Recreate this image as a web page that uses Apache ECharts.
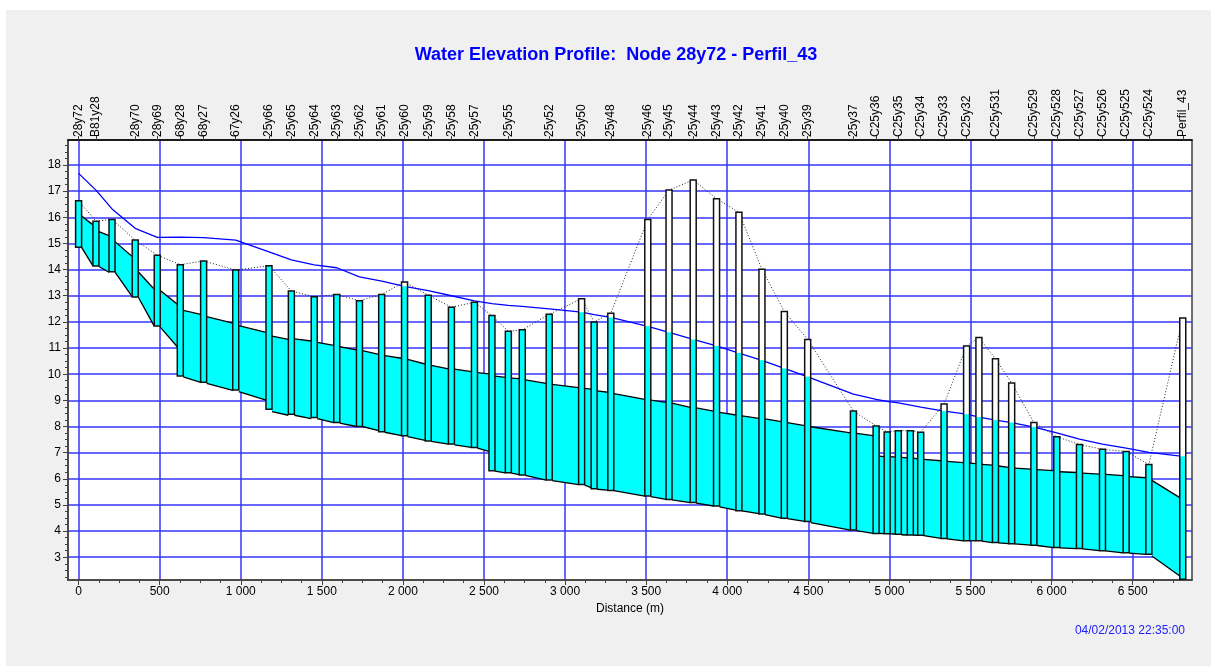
<!DOCTYPE html>
<html>
<head>
<meta charset="utf-8">
<script src="https://cdn.jsdelivr.net/npm/echarts@6/dist/echarts.min.js"></script>
<style>
html,body{margin:0;padding:0;background:#ffffff;}
#bg{position:absolute;left:6px;top:10px;width:1205px;height:656px;background:#f0f0f0;}
#c{position:absolute;left:0;top:0;width:1211px;height:666px;}
</style>
</head>
<body>
<div id="bg"></div>
<div id="c"></div>
<script>
// ---------------- DATA ----------------
const nodeNames = ['28y72','B81y28','','28y70','28y69','68y28','68y27','67y26','25y66','25y65',
  '25y64','25y63','25y62','25y61','25y60','25y59','25y58','25y57','','25y55',
  '','25y52','25y50','','25y48','25y46','25y45','25y44','25y43','25y42',
  '25y41','25y40','25y39','25y37','C25y36','','C25y35','','C25y34','C25y33',
  'C25y32','','C25y531','','C25y529','C25y528','C25y527','C25y526','C25y525','C25y524',
  'Perfil_43'];
const nodeDist = [0,107,206,349,485,627,771,969,1174,1312,
  1453,1592,1732,1869,2010,2156,2299,2441,2549,2650,
  2736,2902,3102,3179,3282,3510,3641,3790,3934,4072,
  4214,4352,4496,4778,4918,4986,5055,5129,5193,5337,
  5476,5552,5654,5754,5891,6032,6172,6314,6460,6600,
  6809];
const nodeInvert = [14.85,14.14,13.92,12.95,11.84,9.93,9.69,9.4,8.66,8.47,
  8.34,8.15,8.0,7.8,7.65,7.45,7.33,7.2,6.31,6.23,
  6.15,5.95,5.78,5.62,5.55,5.34,5.21,5.09,4.96,4.78,
  4.65,4.49,4.37,4.04,3.91,3.9,3.88,3.85,3.84,3.72,
  3.63,3.63,3.56,3.52,3.46,3.37,3.33,3.25,3.17,3.11,
  2.16];
const nodeRim = [16.63,15.85,15.92,15.13,14.55,14.19,14.33,13.98,14.15,13.18,
  12.96,13.05,12.81,13.05,13.53,13.02,12.56,12.75,12.24,11.64,
  11.7,12.29,12.89,12.0,12.33,15.92,17.04,17.43,16.71,16.19,
  14.01,12.4,11.33,8.59,8.02,7.79,7.84,7.84,7.78,8.86,
  11.08,11.4,10.59,9.66,8.15,7.61,7.31,7.13,7.04,6.55,
  12.15];
const nodeWater = [17.68,17.04,16.32,15.58,15.23,15.24,15.22,15.13,14.68,14.37,
  14.18,14.07,13.72,13.56,13.36,13.2,13.0,12.8,12.7,12.63,
  12.59,12.5,12.37,12.28,12.17,11.83,11.6,11.33,11.08,10.81,
  10.53,10.22,9.9,9.24,9.04,8.96,8.9,8.82,8.74,8.59,
  8.47,8.36,8.24,8.15,7.98,7.76,7.52,7.33,7.17,7.01,
  6.86];
// conduit i joins node i and node i+1 (values at the box edges)
const condInvUp = [14.85,14.12,13.9,12.95,11.8,9.9,9.65,9.33,8.57,8.43,
  8.3,8.13,8.0,7.78,7.61,7.43,7.3,7.17,6.29,6.22,
  6.13,5.93,5.76,5.6,5.55,5.32,5.19,5.07,4.93,4.77,
  4.63,4.48,4.32,4.02,3.91,3.9,3.86,3.85,3.83,3.7,
  3.63,3.62,3.55,3.51,3.45,3.36,3.32,3.24,3.16,3.05];
const condInvDn = [14.14,13.9,12.97,11.84,11.05,9.69,9.38,9.01,8.43,8.3,
  8.15,8.0,7.84,7.65,7.47,7.33,7.2,7.05,6.23,6.16,
  5.95,5.78,5.66,5.57,5.34,5.21,5.09,4.96,4.8,4.67,
  4.5,4.37,4.04,3.91,3.9,3.88,3.85,3.84,3.72,3.63,
  3.63,3.56,3.52,3.46,3.37,3.33,3.25,3.17,3.11,2.28];
const condCrownUp = [16.05,15.45,15.07,13.92,13.2,12.44,12.2,11.86,11.46,11.35,
  11.22,11.05,10.9,10.71,10.57,10.34,10.19,10.06,9.93,9.85,
  9.78,9.61,9.46,9.36,9.26,9.01,8.89,8.71,8.54,8.41,
  8.29,8.15,7.99,7.74,6.87,6.85,6.82,6.79,6.74,6.67,
  6.6,6.55,6.49,6.41,6.35,6.27,6.22,6.17,6.08,5.94];
const condCrownDn = [15.71,15.3,14.5,13.25,12.68,12.29,11.95,11.6,11.33,11.27,
  11.1,10.93,10.76,10.61,10.39,10.2,10.1,10.01,9.88,9.83,
  9.65,9.49,9.43,9.31,9.04,8.92,8.73,8.59,8.44,8.31,
  8.19,8.03,7.76,7.65,6.85,6.83,6.8,6.76,6.69,6.62,
  6.58,6.52,6.44,6.37,6.31,6.24,6.18,6.12,6.04,5.28];
const xTickLabels = [0,500,1000,1500,2000,2500,3000,3500,4000,4500,5000,5500,6000,6500];
const yTickLabels = [3,4,5,6,7,8,9,10,11,12,13,14,15,16,17,18];
const titleText = 'Water Elevation Profile:  Node 28y72 - Perfil_43';
const xAxisName = 'Distance (m)';
const stampText = '04/02/2013 22:35:00';

// ---------------- LAYOUT / STYLE ----------------
const X_MIN = -65.4, X_MAX = 6866;
const Y_MIN = 2.13, Y_MAX = 18.956;
const FONT = '"Liberation Sans", Arial, sans-serif';
const GRID_BLUE = '#3636ff';
const AXIS_C = '#404040';
const CYAN = '#00ffff';
const BOX_W = 6;

function minorValues(major, lo, hi, parts) {
  const step = (major[1] - major[0]) / parts;
  const out = [];
  const start = Math.ceil((lo - major[0]) / step);
  for (let k = start; major[0] + k * step <= hi; k++) {
    if (k % parts !== 0) out.push(+(major[0] + k * step).toFixed(6));
  }
  return out;
}
const xMinor = minorValues(xTickLabels, X_MIN, X_MAX, 4);
const yMinor = minorValues(yTickLabels, Y_MIN, Y_MAX, 4);
const topTicks = nodeDist.filter((d, i) => nodeNames[i] !== '');

function fmtThousands(v) {
  return String(v).replace(/\B(?=(\d{3})+(?!\d))/g, ' ');
}

const conduitData = condInvUp.map((v, i) => [nodeDist[i], nodeDist[i + 1], condInvUp[i], condInvDn[i], condCrownUp[i], condCrownDn[i]]);
const boxData = nodeDist.map((d, i) => [d, nodeInvert[i], nodeRim[i], Math.min(nodeWater[i], nodeRim[i])]);
const waterData = nodeDist.map((d, i) => [d, nodeWater[i]]);
const rimData = nodeDist.map((d, i) => [d, nodeRim[i]]);

function renderConduit(params, api) {
  const a = api.coord([api.value(0), api.value(2)]);
  const b = api.coord([api.value(1), api.value(3)]);
  const c = api.coord([api.value(1), api.value(5)]);
  const e = api.coord([api.value(0), api.value(4)]);
  const h = BOX_W / 2;
  a[0] += h; e[0] += h; b[0] -= h; c[0] -= h;
  return {
    type: 'group',
    children: [
      { type: 'polygon', shape: { points: [a, b, c, e] }, style: { fill: CYAN, stroke: null } },
      { type: 'line', shape: { x1: a[0], y1: a[1], x2: b[0], y2: b[1] }, style: { stroke: '#000', lineWidth: 1.3 } },
      { type: 'line', shape: { x1: e[0], y1: e[1], x2: c[0], y2: c[1] }, style: { stroke: '#000', lineWidth: 1.3 } }
    ]
  };
}

function renderBox(params, api) {
  const d = api.value(0);
  const pB = api.coord([d, api.value(1)]);
  const pT = api.coord([d, api.value(2)]);
  const pF = api.coord([d, api.value(3)]);
  const x = pB[0] - BOX_W / 2;
  return {
    type: 'group',
    children: [
      { type: 'rect', shape: { x: x, y: pT[1], width: BOX_W, height: pB[1] - pT[1] }, style: { fill: '#ffffff' } },
      { type: 'rect', shape: { x: x, y: pF[1], width: BOX_W, height: pB[1] - pF[1] }, style: { fill: CYAN } },
      { type: 'rect', shape: { x: x, y: pT[1], width: BOX_W, height: pB[1] - pT[1] }, style: { fill: 'none', stroke: '#111', lineWidth: 1.5 } }
    ]
  };
}

const chart = echarts.init(document.getElementById('c'), null, { renderer: 'canvas', width: 1211, height: 666 });
const labelStyle = { color: '#000', fontSize: 12, fontFamily: FONT };

chart.setOption({
  animation: false,
  backgroundColor: 'transparent',
  title: {
    text: titleText, left: 611, top: 41, textAlign: 'center',
    textStyle: { color: '#0000ff', fontSize: 18, fontWeight: 'bold', fontFamily: FONT }
  },
  graphic: [
    { type: 'text', right: 26, top: 625, style: { text: stampText, fill: '#2020ff', font: '12px ' + FONT } }
  ],
  grid: { left: 68, right: 19, top: 140, bottom: 86, show: true, backgroundColor: '#ffffff', borderColor: AXIS_C, borderWidth: 1.5 },
  xAxis: [
    {
      type: 'value', min: X_MIN, max: X_MAX, position: 'bottom', splitNumber: 14,
      axisLine: { show: true, onZero: false, lineStyle: { color: AXIS_C, width: 1.5 } },
      axisTick: { show: true, customValues: xTickLabels, length: 5, lineStyle: { color: AXIS_C } },
      axisLabel: Object.assign({ customValues: xTickLabels, formatter: fmtThousands, margin: 6 }, labelStyle),
      splitLine: { show: true, lineStyle: { color: GRID_BLUE, width: 1.5 } },
      name: xAxisName, nameLocation: 'middle', nameGap: 23,
      nameTextStyle: labelStyle
    },
    {
      type: 'value', min: X_MIN, max: X_MAX, position: 'bottom',
      axisLine: { show: false, onZero: false },
      axisTick: { show: true, customValues: xMinor, length: 3, lineStyle: { color: AXIS_C } },
      axisLabel: { show: false },
      splitLine: { show: false }
    },
    {
      type: 'value', min: X_MIN, max: X_MAX, position: 'top',
      axisLine: { show: true, onZero: false, lineStyle: { color: '#000', width: 1.5 } },
      axisTick: { show: true, customValues: topTicks, length: 4, lineStyle: { color: AXIS_C } },
      axisLabel: Object.assign({
        customValues: topTicks, rotate: -90, margin: 3,
        formatter: function (v) { const i = nodeDist.indexOf(v); return i >= 0 ? nodeNames[i] : ''; }
      }, labelStyle),
      splitLine: { show: false }
    }
  ],
  yAxis: [
    {
      type: 'value', min: Y_MIN, max: Y_MAX, position: 'left', splitNumber: 16,
      axisLine: { show: true, onZero: false, lineStyle: { color: AXIS_C, width: 1.5 } },
      axisTick: { show: true, customValues: yTickLabels, length: 5, lineStyle: { color: AXIS_C } },
      axisLabel: Object.assign({ customValues: yTickLabels, margin: 7 }, labelStyle),
      splitLine: { show: true, lineStyle: { color: GRID_BLUE, width: 1.5 } }
    },
    {
      type: 'value', min: Y_MIN, max: Y_MAX, position: 'left',
      axisLine: { show: false, onZero: false },
      axisTick: { show: true, customValues: yMinor, length: 3, lineStyle: { color: AXIS_C } },
      axisLabel: { show: false },
      splitLine: { show: false }
    }
  ],
  series: [
    {
      type: 'custom', name: 'conduits', coordinateSystem: 'cartesian2d', xAxisIndex: 0, yAxisIndex: 0,
      renderItem: renderConduit, data: conduitData, encode: { x: [0, 1], y: [2, 3, 4, 5] }, z: 1, silent: true
    },
    {
      type: 'line', name: 'ground', xAxisIndex: 0, yAxisIndex: 0, data: rimData, symbol: 'none',
      lineStyle: { color: '#222', width: 1, type: [1, 2] }, z: 3, silent: true
    },
    {
      type: 'line', name: 'water', xAxisIndex: 0, yAxisIndex: 0, data: waterData, symbol: 'none',
      lineStyle: { color: '#0000ff', width: 1.3 }, z: 3, silent: true
    },
    {
      type: 'custom', name: 'nodes', coordinateSystem: 'cartesian2d', xAxisIndex: 0, yAxisIndex: 0,
      renderItem: renderBox, data: boxData, encode: { x: 0, y: [1, 2, 3] }, z: 4, silent: true
    }
  ]
});
</script>
</body>
</html>
